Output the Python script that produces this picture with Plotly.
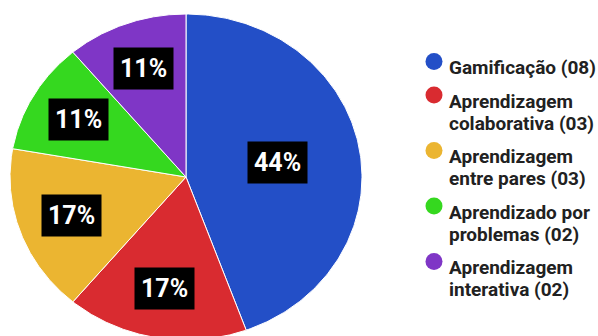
import numpy as np
import plotly.graph_objects as go

# Metodologias ativas e número de trabalhos
categories = [
    "Gamificação",
    "Aprendizagem\ncolaborativa",
    "Aprendizagem\nentre pares",
    "Aprendizado por\nproblemas",
    "Aprendizagem\ninterativa",
]
counts = [8, 3, 3, 2, 2]
colors = ["#234fc7", "#d92b30", "#ebb531", "#35d81f", "#7f36c6"]

W, H = 598, 336
# slightly stretched pie: centre and horizontal / vertical radii in axis units
cx, cy, rx, ry = 186, 177, 176, 163

# legend block geometry (axis units, y grows downward)
LEG_MARK_X, LEG_TEXT_X = 434, 449
LEG_FIRST_BASE, LEG_LINE, LEG_ITEM = 74, 22, 33.5
LEG_MARK_UP = 12.5
LEG_FS = 19

total = sum(counts)
fracs = np.array(counts, dtype=float) / total
starts = np.concatenate([[0.0], np.cumsum(fracs)[:-1]])

fig = go.Figure()
annotations = []
for cat, frac, start, col in zip(categories, fracs, starts, colors):
    th = np.linspace(start, start + frac, 200) * 2 * np.pi
    xs = np.concatenate([[cx], cx + rx * np.sin(th), [cx]])
    ys = np.concatenate([[cy], cy - ry * np.cos(th), [cy]])
    fig.add_trace(go.Scatter(
        x=xs, y=ys, mode="lines", fill="toself", fillcolor=col,
        line=dict(color="white", width=1), hoverinfo="skip", showlegend=False,
        name=cat.replace("\n", " "),
    ))
    # percentage label just outside the sector centroid
    half = frac * np.pi
    rfrac = 4 * np.sin(half) / (6 * half) + 0.055
    mid = (start + frac / 2) * 2 * np.pi
    annotations.append(dict(
        x=cx + rx * rfrac * np.sin(mid), y=cy - ry * rfrac * np.cos(mid),
        xref="x", yref="y", showarrow=False,
        text=f"{round(100 * frac)}%",
        font=dict(family="Roboto", size=25, color="white", weight="bold"),
        bgcolor="black", borderpad=6,
    ))

# legend: coloured dots with wrapped labels
mark_y = []
base = LEG_FIRST_BASE
for cat, n in zip(categories, counts):
    lines = f"{cat} ({n:02d})".split("\n")
    mark_y.append(base - LEG_MARK_UP)
    for k, line in enumerate(lines):
        annotations.append(dict(
            x=LEG_TEXT_X, y=base + k * LEG_LINE - 0.34 * LEG_FS,
            xref="x", yref="y", xanchor="left", yanchor="middle",
            showarrow=False, text=line, borderpad=0, borderwidth=0,
            font=dict(family="Roboto", size=LEG_FS, color="#212121", weight="bold"),
        ))
    base += LEG_ITEM + LEG_LINE * (len(lines) - 1)

fig.add_trace(go.Scatter(
    x=[LEG_MARK_X] * len(mark_y), y=mark_y, mode="markers",
    marker=dict(size=17, color=colors, line=dict(width=0)),
    hoverinfo="skip", showlegend=False,
))

fig.update_layout(
    width=W, height=H,
    margin=dict(l=0, r=0, t=0, b=0),
    paper_bgcolor="white", plot_bgcolor="white",
    xaxis=dict(range=[0, W], visible=False, fixedrange=True),
    yaxis=dict(range=[H, 0], visible=False, fixedrange=True),
    annotations=annotations,
    showlegend=False,
)

fig.write_html("out.html")
